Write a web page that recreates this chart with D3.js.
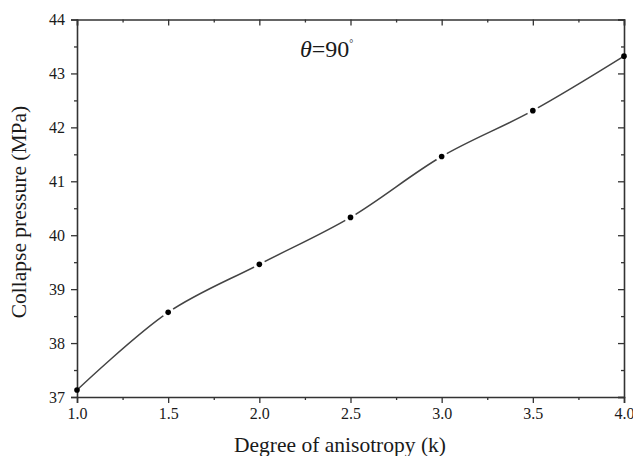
<!DOCTYPE html>
<html>
<head>
<meta charset="utf-8">
<script src="https://cdn.jsdelivr.net/npm/d3@7"></script>
<style>
  body { margin: 0; background: #fff; }
  svg text { font-family: "Liberation Serif", "Times New Roman", serif; fill: #1a1a1a; }
</style>
</head>
<body>
<svg id="chart" width="633" height="456"></svg>
<script>
// data
const kValues = [1.0, 1.5, 2.0, 2.5, 3.0, 3.5, 4.0];
const pressure = [37.13, 38.57, 39.46, 40.33, 41.46, 42.31, 43.32];
const xTicks = [1.0, 1.5, 2.0, 2.5, 3.0, 3.5, 4.0];
const yTicks = [37, 38, 39, 40, 41, 42, 43, 44];

const margin = { top: 19.5, right: 9, bottom: 59, left: 77 };
const W = 633, H = 456;
const width = W - margin.left - margin.right;
const height = H - margin.top - margin.bottom;

const serif = "'Liberation Serif', 'Times New Roman', serif";
const axisColor = "#333";
const lineColor = "#444";

const svg = d3.select("#chart");
const g = svg.append("g").attr("transform", `translate(${margin.left},${margin.top})`);

const x = d3.scaleLinear().domain([1.0, 4.0]).range([0, width]);
const y = d3.scaleLinear().domain([37, 44]).range([height, 0]);

// minor tick positions
const xMinor = d3.range(1.25, 4.0, 0.5);
const yMinor = d3.range(37.5, 44, 1);

// bottom axis (ticks outward)
const bottomAxis = g.append("g").attr("transform", `translate(0,${height})`)
  .call(d3.axisBottom(x).tickValues(xTicks).tickFormat(d3.format(".1f")).tickSize(6).tickPadding(5));
bottomAxis.append("g").call(d3.axisBottom(x).tickValues(xMinor).tickFormat("").tickSize(3))
  .select(".domain").remove();

// left axis (ticks outward)
const leftAxis = g.append("g")
  .call(d3.axisLeft(y).tickValues(yTicks).tickFormat(d3.format("d")).tickSize(6).tickPadding(6));
leftAxis.append("g").call(d3.axisLeft(y).tickValues(yMinor).tickFormat("").tickSize(3))
  .select(".domain").remove();

// top axis (ticks inward)
const topAxis = g.append("g")
  .call(d3.axisTop(x).tickValues(xTicks).tickFormat("").tickSize(-6));
topAxis.append("g").call(d3.axisTop(x).tickValues(xMinor).tickFormat("").tickSize(-3))
  .select(".domain").remove();

// right axis (ticks inward)
const rightAxis = g.append("g").attr("transform", `translate(${width},0)`)
  .call(d3.axisRight(y).tickValues(yTicks).tickFormat("").tickSize(-6));
rightAxis.append("g").call(d3.axisRight(y).tickValues(yMinor).tickFormat("").tickSize(-3))
  .select(".domain").remove();

[bottomAxis, leftAxis, topAxis, rightAxis].forEach(a => a.attr("font-family", serif).attr("font-size", 16));
g.selectAll(".domain").attr("stroke", axisColor).attr("stroke-width", 1.6);
g.selectAll(".tick line").attr("stroke", axisColor).attr("stroke-width", 1.3);
g.selectAll(".tick text")
  .style("font-family", serif)
  .style("font-size", "16px")
  .style("fill", "#1a1a1a");

// curve
const pts = kValues.map((k, i) => [k, pressure[i]]);
const line = d3.line()
  .x(d => x(d[0]))
  .y(d => y(d[1]))
  .curve(d3.curveCatmullRom.alpha(0.5));

g.append("path")
  .datum(pts)
  .attr("d", line)
  .attr("fill", "none")
  .attr("stroke", lineColor)
  .attr("stroke-width", 1.5);

// gaps around markers, then markers
g.selectAll(".gap")
  .data(pts.slice(1, -1))
  .enter()
  .append("circle")
  .attr("cx", d => x(d[0]))
  .attr("cy", d => y(d[1]))
  .attr("r", 6)
  .attr("fill", "#fff");

g.selectAll(".dot")
  .data(pts)
  .enter()
  .append("circle")
  .attr("cx", d => x(d[0]))
  .attr("cy", d => y(d[1]))
  .attr("r", 2.8)
  .attr("fill", "#000");

// axis titles
svg.append("text")
  .attr("x", 340)
  .attr("y", 452)
  .attr("text-anchor", "middle")
  .style("font-size", "21.5px")
  .text("Degree of anisotropy (k)");

svg.append("text")
  .attr("transform", "translate(26,212) rotate(-90)")
  .attr("text-anchor", "middle")
  .style("font-size", "21.5px")
  .text("Collapse pressure (MPa)");

// annotation
const ann = svg.append("text")
  .attr("x", 300)
  .attr("y", 57)
  .style("font-size", "24px");
ann.append("tspan").style("font-style", "italic").text("θ");
ann.append("tspan").text("=90");
ann.append("tspan").attr("dy", -10).style("font-size", "10px").text("°");
</script>
</body>
</html>
